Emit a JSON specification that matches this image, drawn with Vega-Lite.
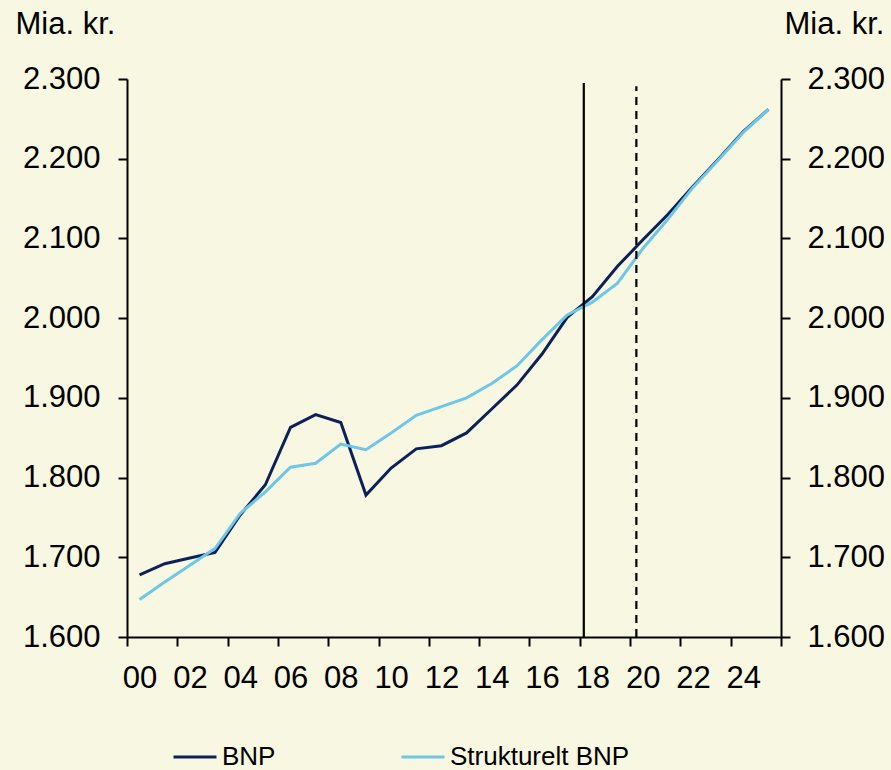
{
  "$schema": "https://vega.github.io/schema/vega-lite/v6.json",
  "width": 654,
  "height": 558,
  "autosize": {"type": "none"},
  "padding": {"left": 127, "top": 79, "right": 110, "bottom": 133},
  "background": "#f8f7e1",
  "config": {
    "view": {"stroke": null},
    "axis": {
      "grid": false,
      "domainColor": "#000000",
      "domainWidth": 2,
      "tickColor": "#000000",
      "tickWidth": 2,
      "tickSize": 9,
      "labelFont": "Liberation Sans",
      "labelFontSize": 31,
      "labelColor": "#000000",
      "titleFont": "Liberation Sans",
      "titleFontSize": 31,
      "titleColor": "#000000",
      "titleFontWeight": "normal"
    }
  },
  "datasets": {
    "series": [
      {"year": 2000, "series": "BNP", "value": 1678},
      {"year": 2001, "series": "BNP", "value": 1692},
      {"year": 2002, "series": "BNP", "value": 1699},
      {"year": 2003, "series": "BNP", "value": 1706},
      {"year": 2004, "series": "BNP", "value": 1753},
      {"year": 2005, "series": "BNP", "value": 1791},
      {"year": 2006, "series": "BNP", "value": 1863},
      {"year": 2007, "series": "BNP", "value": 1879},
      {"year": 2008, "series": "BNP", "value": 1869},
      {"year": 2009, "series": "BNP", "value": 1778},
      {"year": 2010, "series": "BNP", "value": 1812},
      {"year": 2011, "series": "BNP", "value": 1836},
      {"year": 2012, "series": "BNP", "value": 1840},
      {"year": 2013, "series": "BNP", "value": 1856},
      {"year": 2014, "series": "BNP", "value": 1886},
      {"year": 2015, "series": "BNP", "value": 1916},
      {"year": 2016, "series": "BNP", "value": 1955},
      {"year": 2017, "series": "BNP", "value": 2001},
      {"year": 2018, "series": "BNP", "value": 2027},
      {"year": 2019, "series": "BNP", "value": 2065},
      {"year": 2020, "series": "BNP", "value": 2098},
      {"year": 2021, "series": "BNP", "value": 2130},
      {"year": 2022, "series": "BNP", "value": 2165},
      {"year": 2023, "series": "BNP", "value": 2199},
      {"year": 2024, "series": "BNP", "value": 2234},
      {"year": 2025, "series": "BNP", "value": 2262},
      {"year": 2000, "series": "Strukturelt BNP", "value": 1647},
      {"year": 2001, "series": "Strukturelt BNP", "value": 1669},
      {"year": 2002, "series": "Strukturelt BNP", "value": 1690},
      {"year": 2003, "series": "Strukturelt BNP", "value": 1711},
      {"year": 2004, "series": "Strukturelt BNP", "value": 1755},
      {"year": 2005, "series": "Strukturelt BNP", "value": 1782},
      {"year": 2006, "series": "Strukturelt BNP", "value": 1813},
      {"year": 2007, "series": "Strukturelt BNP", "value": 1818},
      {"year": 2008, "series": "Strukturelt BNP", "value": 1842},
      {"year": 2009, "series": "Strukturelt BNP", "value": 1835},
      {"year": 2010, "series": "Strukturelt BNP", "value": 1856},
      {"year": 2011, "series": "Strukturelt BNP", "value": 1878},
      {"year": 2012, "series": "Strukturelt BNP", "value": 1889},
      {"year": 2013, "series": "Strukturelt BNP", "value": 1900},
      {"year": 2014, "series": "Strukturelt BNP", "value": 1918},
      {"year": 2015, "series": "Strukturelt BNP", "value": 1940},
      {"year": 2016, "series": "Strukturelt BNP", "value": 1973},
      {"year": 2017, "series": "Strukturelt BNP", "value": 2004},
      {"year": 2018, "series": "Strukturelt BNP", "value": 2020},
      {"year": 2019, "series": "Strukturelt BNP", "value": 2044},
      {"year": 2020, "series": "Strukturelt BNP", "value": 2087},
      {"year": 2021, "series": "Strukturelt BNP", "value": 2124},
      {"year": 2022, "series": "Strukturelt BNP", "value": 2164},
      {"year": 2023, "series": "Strukturelt BNP", "value": 2198},
      {"year": 2024, "series": "Strukturelt BNP", "value": 2233},
      {"year": 2025, "series": "Strukturelt BNP", "value": 2262}
    ],
    "markers": [
      {"year": 2017.66, "low": 1600, "high": 2295, "kind": "solid"},
      {"year": 2019.75, "low": 1600, "high": 2291, "kind": "dashed"}
    ]
  },
  "layer": [
    {
      "data": {"name": "series"},
      "mark": {"type": "line", "strokeWidth": 3},
      "encoding": {
        "x": {
          "field": "year",
          "type": "quantitative",
          "scale": {"domain": [1999.5, 2025.5], "nice": false, "zero": false},
          "axis": {
            "orient": "bottom",
            "values": [1999.5, 2000.5, 2001.5, 2002.5, 2003.5, 2004.5, 2005.5, 2006.5, 2007.5, 2008.5, 2009.5, 2010.5, 2011.5, 2012.5, 2013.5, 2014.5, 2015.5, 2016.5, 2017.5, 2018.5, 2019.5, 2020.5, 2021.5, 2022.5, 2023.5, 2024.5, 2025.5],
            "labelExpr": "(datum.value + 0.5) % 2 == 0 && datum.value < 2025 ? format((datum.value + 0.5) % 100, '02d') : ''",
            "labelOffset": 12.58,
            "labelPadding": 17,
            "labelFlush": false,
            "labelOverlap": false,
            "labelBound": false,
            "title": null
          }
        },
        "y": {
          "field": "value",
          "type": "quantitative",
          "scale": {"domain": [1600, 2300], "nice": false, "zero": false},
          "axis": {
            "orient": "left",
            "values": [1600, 1700, 1800, 1900, 2000, 2100, 2200, 2300],
            "labelExpr": "replace(format(datum.value, ','), ',', '.')",
            "labelPadding": 18,
            "labelFlush": false,
            "labelOverlap": false,
            "title": "Mia. kr.",
            "titleAngle": 0,
            "titleX": -112,
            "titleY": -46,
            "titleAlign": "left",
            "titleBaseline": "alphabetic"
          }
        },
        "color": {
          "field": "series",
          "type": "nominal",
          "scale": {"domain": ["BNP", "Strukturelt BNP"], "range": ["#0d2158", "#6ec6e8"]},
          "legend": {
            "orient": "none",
            "legendX": 45,
            "legendY": 655,
            "direction": "horizontal",
            "title": null,
            "symbolType": "stroke",
            "symbolSize": 1849,
            "symbolStrokeWidth": 3,
            "labelFont": "Liberation Sans",
            "labelFontSize": 26,
            "labelColor": "#000000",
            "labelOffset": 4,
            "columnPadding": 119,
            "padding": 0,
            "labelLimit": 400
          }
        }
      }
    },
    {
      "data": {"name": "markers"},
      "mark": {"type": "rule", "strokeWidth": 2.2, "color": "#000000"},
      "encoding": {
        "x": {
          "field": "year",
          "type": "quantitative",
          "scale": {"domain": [1999.5, 2025.5], "nice": false, "zero": false}
        },
        "y": {
          "field": "low",
          "type": "quantitative",
          "scale": {"domain": [1600, 2300], "nice": false, "zero": false},
          "axis": {
            "orient": "right",
            "values": [1600, 1700, 1800, 1900, 2000, 2100, 2200, 2300],
            "labelExpr": "replace(format(datum.value, ','), ',', '.')",
            "labelPadding": 17,
            "labelFlush": false,
            "labelOverlap": false,
            "title": "Mia. kr.",
            "titleAngle": 0,
            "titleX": 3,
            "titleY": -46,
            "titleAlign": "left",
            "titleBaseline": "alphabetic"
          }
        },
        "y2": {"field": "high"},
        "strokeDash": {
          "field": "kind",
          "type": "nominal",
          "scale": {"domain": ["solid", "dashed"], "range": [[1, 0], [8, 6]]},
          "legend": null
        }
      }
    }
  ],
  "resolve": {"axis": {"y": "independent"}}
}
